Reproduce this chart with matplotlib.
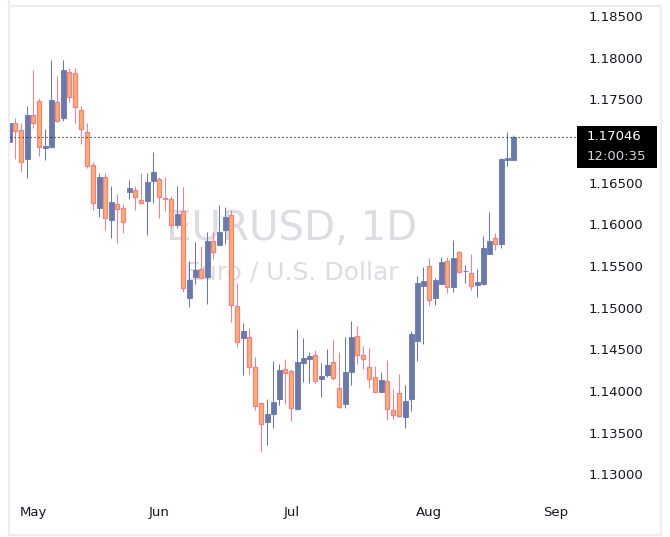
import matplotlib
matplotlib.use("Agg")
import matplotlib.pyplot as plt
from matplotlib.lines import Line2D
from matplotlib.patches import Rectangle
from matplotlib import font_manager

# ---- data (EURUSD daily candles) ----
opens = [1.16988, 1.17212, 1.17128, 1.16788, 1.17312, 1.17480, 1.16912, 1.16924, 1.17464, 1.17280,
         1.17824, 1.17812, 1.17372, 1.17104, 1.16708, 1.16200, 1.16564, 1.16056, 1.16240, 1.16192,
         1.16392, 1.16408, 1.16288, 1.16284, 1.16524, 1.16540, 1.16316, 1.16304, 1.15996, 1.16160,
         1.15120, 1.15372, 1.15464, 1.15372, 1.15800, 1.15756, 1.15936, 1.16112, 1.15020, 1.14640,
         1.14648, 1.14288, 1.13856, 1.13632, 1.13728, 1.13908, 1.14264, 1.14240, 1.13784, 1.14340,
         1.14388, 1.14432, 1.14148, 1.14192, 1.14348, 1.14036, 1.13848, 1.14232, 1.14660, 1.14432,
         1.14288, 1.14168, 1.13992, 1.14120, 1.13772, 1.13976, 1.13694, 1.13908, 1.14604, 1.15264,
         1.15500, 1.15120, 1.15288, 1.15560, 1.15252, 1.15664, 1.15436, 1.15412, 1.15276, 1.15284,
         1.15648, 1.15836, 1.15764, 1.16768, 1.16776]
highs = [1.17228, 1.17280, 1.17212, 1.17420, 1.17852, 1.17512, 1.17144, 1.17972, 1.17780, 1.17972,
         1.17872, 1.17872, 1.17420, 1.17212, 1.16744, 1.16620, 1.16620, 1.16460, 1.16364, 1.16240,
         1.16532, 1.16460, 1.16620, 1.16620, 1.16868, 1.16564, 1.16572, 1.16340, 1.16460, 1.16452,
         1.15560, 1.15788, 1.15740, 1.15908, 1.15908, 1.16232, 1.16212, 1.16172, 1.15292, 1.14820,
         1.14760, 1.14412, 1.13872, 1.13904, 1.14360, 1.14324, 1.14384, 1.14260, 1.14744, 1.14640,
         1.14472, 1.14492, 1.14340, 1.14504, 1.14624, 1.14472, 1.14652, 1.14840, 1.14780, 1.14540,
         1.14516, 1.14300, 1.14228, 1.14372, 1.14024, 1.14204, 1.14072, 1.14720, 1.15384, 1.15492,
         1.15600, 1.15360, 1.15612, 1.15612, 1.15812, 1.15680, 1.15512, 1.15644, 1.15464, 1.15860,
         1.16148, 1.15896, 1.16800, 1.17108, 1.17072]
lows = [1.16976, 1.16784, 1.16624, 1.16560, 1.17160, 1.16824, 1.16776, 1.16916, 1.17230, 1.17244,
        1.17472, 1.17220, 1.16968, 1.16672, 1.16176, 1.16088, 1.15932, 1.15840, 1.15780, 1.15900,
        1.16308, 1.16176, 1.16240, 1.15876, 1.16260, 1.16080, 1.16156, 1.15960, 1.15952, 1.15192,
        1.15012, 1.15284, 1.15344, 1.15048, 1.15584, 1.15748, 1.15760, 1.14828, 1.14532, 1.14192,
        1.14204, 1.13772, 1.13272, 1.13352, 1.13560, 1.13836, 1.13848, 1.13644, 1.13772, 1.14112,
        1.14100, 1.14100, 1.13928, 1.14168, 1.14132, 1.13800, 1.13800, 1.14072, 1.14328, 1.14268,
        1.14040, 1.13985, 1.13985, 1.13656, 1.13668, 1.13690, 1.13562, 1.13764, 1.14364, 1.14564,
        1.15024, 1.15032, 1.15284, 1.15172, 1.15192, 1.15412, 1.15292, 1.15216, 1.15132, 1.15276,
        1.15644, 1.15688, 1.15720, 1.16704, 1.16770]
closes = [1.17216, 1.17124, 1.16752, 1.17312, 1.17212, 1.16924, 1.16940, 1.17492, 1.17236, 1.17852,
          1.17524, 1.17404, 1.17140, 1.16696, 1.16252, 1.16568, 1.16072, 1.16268, 1.16180, 1.16024,
          1.16432, 1.16324, 1.16260, 1.16508, 1.16628, 1.16324, 1.16304, 1.15988, 1.16124, 1.15232,
          1.15332, 1.15452, 1.15360, 1.15800, 1.15672, 1.15908, 1.16088, 1.15028, 1.14584, 1.14720,
          1.14292, 1.13824, 1.13600, 1.13724, 1.13868, 1.14252, 1.14220, 1.13792, 1.14348, 1.14396,
          1.14424, 1.14124, 1.14180, 1.14312, 1.14160, 1.13812, 1.14228, 1.14648, 1.14436, 1.14388,
          1.14148, 1.13992, 1.14132, 1.13788, 1.13716, 1.13696, 1.13880, 1.14684, 1.15296, 1.15320,
          1.15088, 1.15336, 1.15548, 1.15244, 1.15596, 1.15432, 1.15444, 1.15256, 1.15308, 1.15720,
          1.15800, 1.15760, 1.16784, 1.16800, 1.17046]

month_labels = ["May", "Jun", "Jul", "Aug", "Sep"]
month_pos = [4, 25, 47, 70, 91]          # bar index of first session of each month
price_ticks = [1.185, 1.18, 1.175, 1.165, 1.16, 1.155, 1.15, 1.145, 1.14, 1.135, 1.13]
last_price = closes[-1]
countdown = "12:00:35"
symbol_title = "EURUSD, 1D"
symbol_desc = "Euro / U.S. Dollar"

UP = "#6879ae"
DN_FILL = "#ffb062"
DN_EDGE = "#f2808c"
TXT = "#131722"

installed = {f.name for f in font_manager.fontManager.ttflist}
if "Liberation Sans Narrow" in installed:
    wm_family, wm_size = "Liberation Sans Narrow", 36
else:
    wm_family, wm_size = "DejaVu Sans", 29

W, H = 670, 537
fig = plt.figure(figsize=(W / 100, H / 100), dpi=100)
fig.patch.set_facecolor("white")

L, R, T, B = 10, 577, 7, 495
ax = fig.add_axes([L / W, 1 - B / H, (R - L) / W, (B - T) / H])
ax.set_facecolor("white")

x = list(range(len(opens)))
for i in x:
    o, h, l, c = opens[i], highs[i], lows[i], closes[i]
    up = c >= o
    wick_col = UP if up else DN_EDGE
    ax.vlines(i, l, h, color=wick_col, linewidth=0.75, zorder=3)
    bot = min(o, c)
    ht = max(abs(c - o), 0.00002)
    if up:
        ax.bar(i, ht, bottom=bot, width=0.76, color=UP, edgecolor=UP,
               linewidth=0.6, zorder=4)
    else:
        ax.bar(i, ht, bottom=bot, width=0.66, color=DN_FILL, edgecolor=DN_EDGE,
               linewidth=0.9, zorder=4)

ax.set_xlim(0.117, 94.62)
ax.set_ylim(1.12752, 1.18608)

# dotted last-price line
ax.axhline(last_price, color="#131722", linewidth=0.8, linestyle=(0, (1, 2.6)), zorder=5)

# watermark
ax.text(0.497, 0.545, symbol_title, transform=ax.transAxes, ha="center", va="center",
        fontsize=wm_size, color="#dcdde2", zorder=1, family=wm_family)
ax.text(0.497, 0.455, symbol_desc, transform=ax.transAxes, ha="center", va="center",
        fontsize=18, color="#dcdde2", zorder=1, family="DejaVu Sans")

for s in ax.spines.values():
    s.set_visible(False)

ax.yaxis.tick_right()
ax.set_yticks(price_ticks)
ax.set_yticklabels([f"{v:.5f}" for v in price_ticks])
ax.tick_params(axis="y", length=0, pad=8, labelsize=9.5, labelcolor=TXT)
ax.set_xticks(month_pos)
ax.set_xticklabels(month_labels)
ax.tick_params(axis="x", length=0, pad=8, labelsize=9.5, labelcolor=TXT)

# last price label box
def fy(y):
    return 1 - y / H

fig.add_artist(Rectangle((577 / W, fy(168)), 80 / W, 42 / H, transform=fig.transFigure,
                         facecolor="black", edgecolor="none", zorder=10))
fig.text(587 / W, fy(137), f"{last_price:.5f}", color="white", fontsize=9.5,
         ha="left", va="center", zorder=11)
fig.text(587 / W, fy(156), countdown, color="#d1d4dc", fontsize=9.5,
         ha="left", va="center", zorder=11)

# light frame
fc = "#eeeef0"
fig.add_artist(Line2D([9 / W, 9 / W], [fy(0), fy(535)], transform=fig.transFigure, color=fc, linewidth=1.5))
fig.add_artist(Line2D([9 / W, 661 / W], [fy(535), fy(535)], transform=fig.transFigure, color=fc, linewidth=1.5))
fig.add_artist(Line2D([661 / W, 661 / W], [fy(6), fy(535)], transform=fig.transFigure, color=fc, linewidth=1.5))
fig.add_artist(Line2D([9 / W, 661 / W], [fy(6), fy(6)], transform=fig.transFigure, color=fc, linewidth=1.5))

fig.savefig("out.png", dpi=100, facecolor="white")
